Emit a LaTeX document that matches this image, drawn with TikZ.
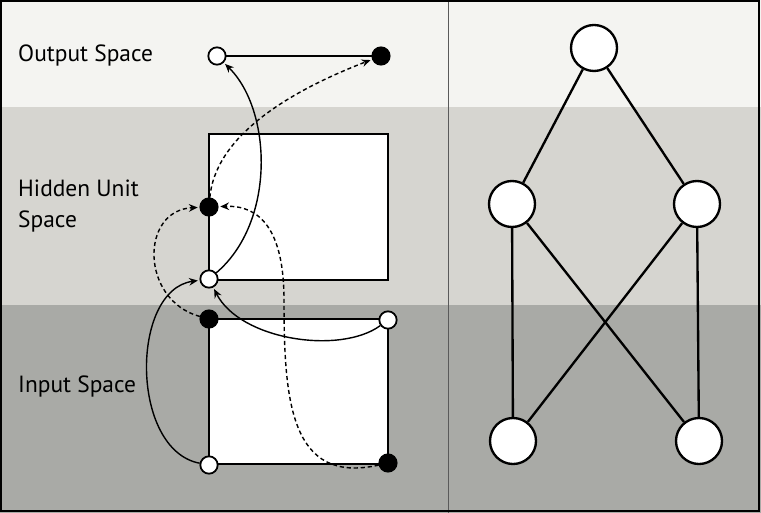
\documentclass[tikz,border=0pt]{standalone}
\usepackage{fontspec}
\setmainfont{PT Sans}
\usetikzlibrary{calc,arrows.meta,positioning}
\definecolor{bandTop}{RGB}{244,244,241}
\definecolor{bandMid}{RGB}{214,213,208}
\definecolor{bandLow}{RGB}{169,170,166}
\definecolor{frameGray}{RGB}{90,90,90}
\begin{document}
\begin{tikzpicture}[x=0.03cm,y=-0.03cm,
  spacelabel/.style={anchor=west,align=left,font=\fontsize{20}{27}\selectfont,inner sep=0pt},
  dotwhite/.style={circle,draw=black,fill=white,line width=1.5pt,minimum size=0.52cm,inner sep=0pt},
  dotblack/.style={circle,draw=black,fill=black,line width=1.5pt,minimum size=0.52cm,inner sep=0pt},
  unit/.style={circle,draw=black,fill=white,line width=2pt,minimum size=1.38cm,inner sep=0pt},
  edge/.style={line width=2pt},
  flow/.style={line width=1.2pt,-{Stealth[length=7.5pt,width=6.5pt,inset=2.5pt]},shorten >=1.5pt},
  flowdash/.style={flow,dash pattern=on 3.5pt off 2.5pt}]
\useasboundingbox (0,0) rectangle (761,513);
\fill[bandTop] (0,0) rectangle (761,107);
\fill[bandMid] (0,107) rectangle (761,305);
\fill[bandLow] (0,305) rectangle (761,513);
\draw[frameGray,line width=0.8pt] (448,0) -- (448,513);
\draw[black,line width=1.8pt] (1,1) rectangle (759,511);

\node[spacelabel] (lblOut) at (18,56) {Output Space};
\node[spacelabel] (lblHid) at (18,206) {Hidden Unit\\Space};
\node[spacelabel] (lblIn) at (18,386) {Input Space};

\draw[edge,fill=white] (209,134) rectangle (388,280);
\draw[edge,fill=white] (209,319) rectangle (388,464);
\draw[edge] (217,56) -- (381,56);

\node[dotwhite] (oW) at (217,56) {};
\node[dotblack] (oB) at (381,56) {};
\node[dotblack] (hB) at (209,207) {};
\node[dotwhite] (hW) at (209,279) {};
\node[dotblack] (iB) at (209,319) {};
\node[dotwhite] (iW) at (388,320) {};
\node[dotwhite] (iW2) at (209,465) {};
\node[dotblack] (iB2) at (388,463) {};
\coordinate (bend) at (284,300);

\draw[flow] (hW) .. controls (276,222) and (272,110) .. (oW);
\draw[flowdash] (hB) .. controls (215,140) and (280,95) .. (oB);
\draw[flowdash] (iB) .. controls (140,300) and (140,210) .. (hB);
\draw[flowdash] (iB2) .. controls (290,485) and (284,400) .. (bend) .. controls (284,230) and (260,205) .. (hB);
\draw[flow] (iW2) .. controls (130,450) and (130,290) .. (hW);
\draw[flow] (iW) .. controls (340,355) and (240,340) .. (hW);

\node[unit] (uTop) at (594,48) {};
\node[unit] (uMidL) at (512,204) {};
\node[unit] (uMidR) at (697,204) {};
\node[unit] (uLowL) at (513,441) {};
\node[unit] (uLowR) at (699,441) {};
\draw[edge] (uTop) -- (uMidL);
\draw[edge] (uTop) -- (uMidR);
\draw[edge] (uMidL) -- (uLowL);
\draw[edge] (uMidL) -- (uLowR);
\draw[edge] (uMidR) -- (uLowL);
\draw[edge] (uMidR) -- (uLowR);
\end{tikzpicture}
\end{document}
